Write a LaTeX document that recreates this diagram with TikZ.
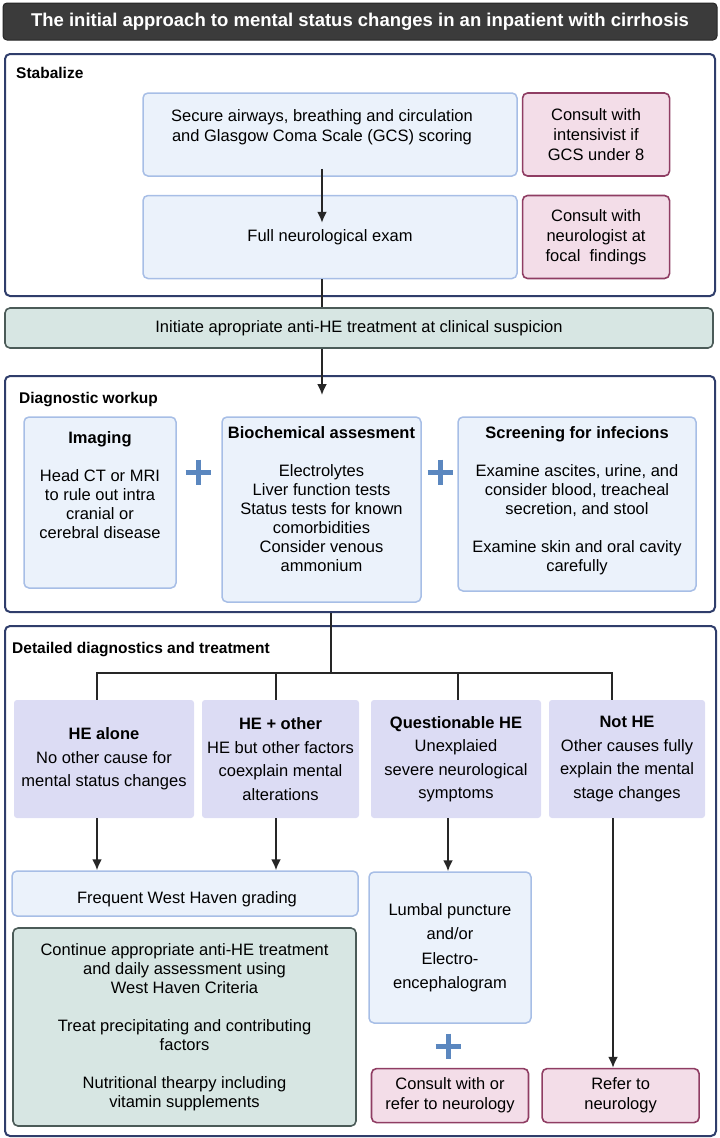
\documentclass[tikz,border=0pt]{standalone}
\usepackage{fontspec}
\setmainfont{Liberation Sans}
\usetikzlibrary{arrows.meta, positioning, calc}

\definecolor{titlegray}{HTML}{3B3B3B}
\definecolor{framenavy}{HTML}{2F3D6B}
\definecolor{boxblue}{HTML}{EBF2FB}
\definecolor{lineblue}{HTML}{A7BEE6}
\definecolor{boxpink}{HTML}{F3DDE8}
\definecolor{linepink}{HTML}{8F3D63}
\definecolor{boxgreen}{HTML}{D7E6E3}
\definecolor{linegreen}{HTML}{4B5B58}
\definecolor{boxlilac}{HTML}{DCDCF4}
\definecolor{plusblue}{HTML}{5B87BF}

\begin{document}
\begin{tikzpicture}[
    x=1pt, y=-1pt,
    every node/.style={font=\fontsize{16.5}{20}\selectfont, align=center, inner sep=0pt},
    frame/.style={draw=framenavy, line width=2pt, rounded corners=5pt},
    bluebox/.style={draw=lineblue, fill=boxblue, line width=1.5pt, rounded corners=5pt},
    pinkbox/.style={draw=linepink, fill=boxpink, line width=1.6pt, rounded corners=5pt},
    greenbox/.style={draw=linegreen, fill=boxgreen, line width=1.6pt, rounded corners=5pt},
    lilacbox/.style={fill=boxlilac, rounded corners=3pt, font=\fontsize{16.5}{23.5}\selectfont},
    secname/.style={anchor=base west, font=\fontsize{15.5}{18}\selectfont\bfseries},
    link/.style={draw=black!85, line width=1.8pt},
    flow/.style={link, ->},
    plussign/.pic={\draw[draw=plusblue, line width=5pt] (-12.5,0) -- (12.5,0) (0,-12.5) -- (0,12.5);},
    >={Latex[length=11pt, width=10pt]} % Arrow style
]
\useasboundingbox (0,0) rectangle (720,1138);

% Title
\node[draw=black!85, fill=titlegray, line width=1pt, rounded corners=4pt,
      minimum width=714pt, minimum height=37pt, text=white,
      font=\fontsize{18.5}{22}\selectfont\bfseries] (title) at (360,21.5)
      {The initial approach to mental status changes in an inpatient with cirrhosis};

% Stabalize
\node[frame, minimum width=710pt, minimum height=242pt] (stab) at (360,175) {};
\node[secname] (stablbl) at (16,78.5) {Stabalize};
\node[bluebox, minimum width=374pt, minimum height=83pt] (airway) at (330,134.5) {};
\node (airwaytxt) at (322,127) {Secure airways, breathing and circulation\\and Glasgow Coma Scale (GCS) scoring};
\node[pinkbox, minimum width=147pt, minimum height=83pt, right=4pt of airway] (icu) {Consult with\\intensivist if\\GCS under 8};
\node[bluebox, minimum width=374pt, minimum height=83pt, below=18pt of airway] (neuro) {Full neurological exam};
\node[pinkbox, minimum width=147pt, minimum height=83pt, right=4pt of neuro] (neurologist) {Consult with\\neurologist at\\focal\ \ findings};

\node[greenbox, minimum width=708pt, minimum height=40pt] (initiate) at (359,328)
      {Initiate apropriate anti-HE treatment at clinical suspicion};

% Diagnostic workup
\node[frame, minimum width=710pt, minimum height=236pt] (diag) at (360,494) {};
\node[secname] (diaglbl) at (19,403.5) {Diagnostic workup};
\node[bluebox, minimum width=152pt, minimum height=171pt] (imaging) at (100,502.5) {};
\node[bluebox, minimum width=199pt, minimum height=185pt] (biochem) at (321.5,509.5) {};
\node[bluebox, minimum width=238pt, minimum height=174pt] (screening) at (577,504) {};
\node[below=15pt of imaging.north, font=\fontsize{16.5}{19}\selectfont] (imagingtxt)
      {\textbf{Imaging}\\[19pt]Head CT or MRI\\to rule out intra\\cranial or\\cerebral disease};
\node[below=10pt of biochem.north, font=\fontsize{16.5}{19}\selectfont] (biochemtxt)
      {\textbf{Biochemical assesment}\\[19pt]Electrolytes\\Liver function tests\\Status tests for known\\comorbidities\\Consider venous\\ammonium};
\node[below=10pt of screening.north, font=\fontsize{16.5}{19}\selectfont] (screeningtxt)
      {\textbf{Screening for infecions}\\[19pt]Examine ascites, urine, and\\consider blood, treacheal\\secretion, and stool\\[19pt]Examine skin and oral cavity\\carefully};
\pic at (198,472) {plussign};
\pic at (440,472) {plussign};

% Detailed diagnostics and treatment
\node[frame, minimum width=711pt, minimum height=510pt] (detail) at (360.5,881) {};
\node[secname] (detaillbl) at (12,653.5) {Detailed diagnostics and treatment};
\coordinate (split) at (331,673);
\node[lilacbox, minimum width=180pt, minimum height=118pt] (healone) at (104,759)
      {\textbf{HE alone}\\No other cause for\\mental status changes};
\node[lilacbox, minimum width=157pt, minimum height=118pt] (heother) at (280.5,759)
      {\textbf{HE + other}\\HE but other factors\\coexplain mental\\alterations};
\node[lilacbox, minimum width=170pt, minimum height=118pt] (qhe) at (456,759)
      {\textbf{Questionable HE}\\Unexplaied\\severe neurological\\symptoms};
\node[lilacbox, minimum width=156pt, minimum height=118pt] (nothe) at (627,759)
      {\textbf{Not HE}\\Other causes fully\\explain the mental\\stage changes};

\node[bluebox, minimum width=346pt, minimum height=45pt] (frequent) at (185,893.5) {};
\node (frequenttxt) at (187,899) {Frequent West Haven grading};
\node[greenbox, minimum width=343pt, minimum height=198pt, font=\fontsize{16.5}{19}\selectfont] (continue) at (184.5,1027)
      {Continue appropriate anti-HE treatment\\and daily assessment using\\West Haven Criteria\\[19pt]Treat precipitating and contributing\\factors\\[19pt]Nutritional thearpy including\\vitamin supplements};
\node[bluebox, minimum width=162pt, minimum height=151pt, font=\fontsize{16.5}{24.5}\selectfont] (lumbal) at (450,947.5)
      {Lumbal puncture\\and/or\\Electro-\\encephalogram};
\node[pinkbox, minimum width=157pt, minimum height=54pt, below=44pt of lumbal] (consult) {Consult with or\\refer to neurology};
\node[pinkbox, minimum width=157pt, minimum height=54pt, right=12pt of consult] (refer) {Refer to\\neurology};
\pic at (448,1046) {plussign};

% Arrows
\draw[flow] ($(airway.south -| airwaytxt)+(0,-8)$) -- ($(neuro.north -| airwaytxt)+(0,28)$);
\draw[link] (neuro.south -| airwaytxt) -- (initiate.north -| airwaytxt);
\draw[flow] (initiate.south -| airwaytxt) -- ($(diag.north -| airwaytxt)+(0,20)$);
\draw[link] (diag.south -| split) -- (split);
\draw[link] (split) -| ($(healone.north)+(-7,0)$);
\draw[link] (split) -| ($(heother.north)+(-4.5,0)$);
\draw[link] (split) -| ($(qhe.north)+(2,0)$);
\draw[link] (split) -| ($(nothe.north)+(-15,0)$);
\draw[flow] ($(healone.south)+(-7,0)$) -- ($(healone.south |- frequent.north)+(-7,0)$);
\draw[flow] ($(heother.south)+(-4.5,0)$) -- ($(heother.south |- frequent.north)+(-4.5,0)$);
\draw[flow] ($(qhe.south)+(-8,0)$) -- ($(qhe.south |- lumbal.north)+(-8,0)$);
\draw[flow] ($(nothe.south)+(-14,0)$) -- ($(nothe.south |- refer.north)+(-14,0)$);

\end{tikzpicture}
\end{document}
